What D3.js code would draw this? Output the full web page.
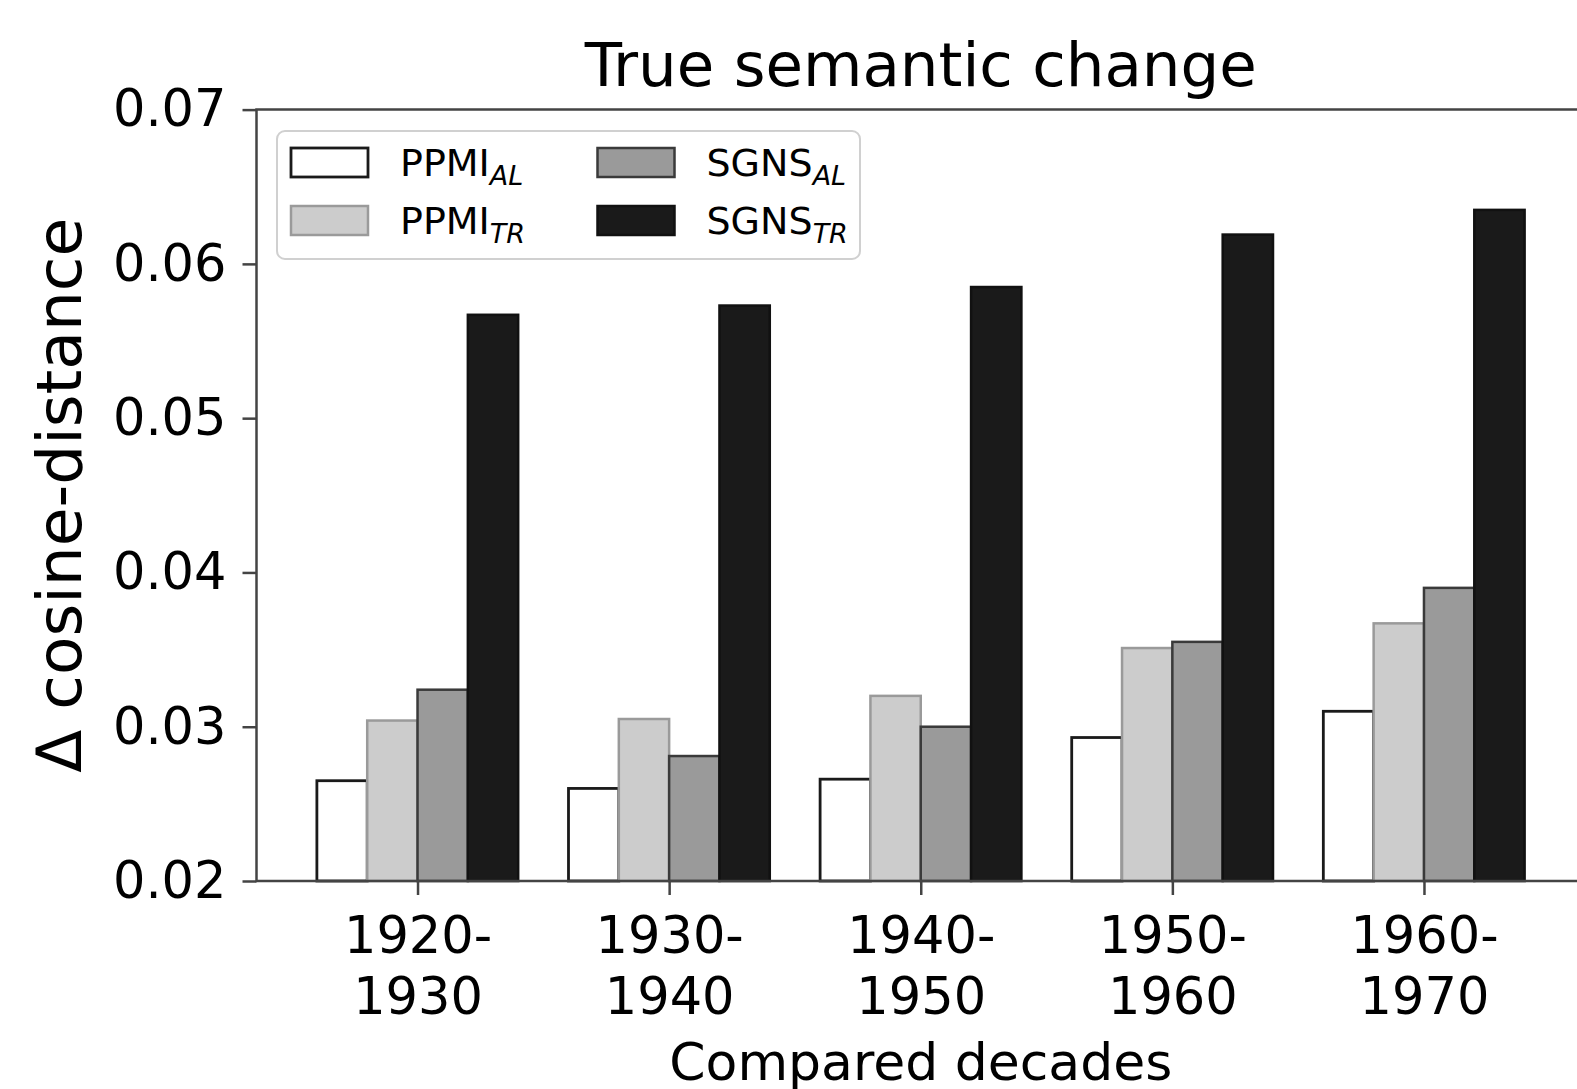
<!DOCTYPE html>
<meta charset="utf-8">
<style>
body { margin: 0; background: #fff; }
svg text { font-family: "DejaVu Sans", sans-serif; fill: #000; }
.axis path, .axis line { stroke: #444; stroke-width: 2.5; }
.axis text { font-size: 51px; }
</style>
<body>
<svg width="1577" height="1089"></svg>
<script src="https://cdn.jsdelivr.net/npm/d3@7"></script>
<script>
// data
var decades = [["1920-", "1930"], ["1930-", "1940"], ["1940-", "1950"], ["1950-", "1960"], ["1960-", "1970"]];
var ppmiAL = [0.0265, 0.0260, 0.0266, 0.0293, 0.0310];
var ppmiTR = [0.0304, 0.0305, 0.0320, 0.0351, 0.0367];
var sgnsAL = [0.0324, 0.0281, 0.0300, 0.0355, 0.0390];
var sgnsTR = [0.0567, 0.0573, 0.0585, 0.0619, 0.0635];
var yTicks = [0.02, 0.03, 0.04, 0.05, 0.06, 0.07];

var series = [
  {name: "PPMI", sub: "AL", values: ppmiAL, fill: "#ffffff", stroke: "#1a1a1a", sw: 2.8},
  {name: "PPMI", sub: "TR", values: ppmiTR, fill: "#cccccc", stroke: "#9a9a9a", sw: 2.5},
  {name: "SGNS", sub: "AL", values: sgnsAL, fill: "#9a9a9a", stroke: "#3a3a3a", sw: 2.5},
  {name: "SGNS", sub: "TR", values: sgnsTR, fill: "#1a1a1a", stroke: "#111111", sw: 2.5}
];

var svg = d3.select("svg");
var plotL = 256.5, plotR = 1585, plotT = 109.6, plotB = 881;
var barW = 0.2;

var x = d3.scaleLinear().domain([-0.64, 4.64]).range([plotL, plotR]);
var y = d3.scaleLinear().domain([0.02, 0.07]).range([plotB, plotT]);

// bars
series.forEach(function(s, i) {
  var off = (i - 1.5) * barW;
  svg.append("g").selectAll("rect")
    .data(s.values)
    .enter().append("rect")
    .attr("x", function(d, j) { return x(j + off - barW / 2); })
    .attr("width", x(barW) - x(0))
    .attr("y", function(d) { return y(d); })
    .attr("height", function(d) { return y(0.02) - y(d); })
    .attr("fill", s.fill)
    .attr("stroke", s.stroke)
    .attr("stroke-width", s.sw);
});

// axes
var yAxis = d3.axisLeft(y).tickValues(yTicks).tickSize(14).tickPadding(16)
  .tickFormat(d3.format(".2f"));
svg.append("g").attr("class", "axis").attr("transform", "translate(" + plotL + ",0)")
  .call(yAxis)
  .call(function(g) { g.select(".domain").remove(); });

var xAxis = d3.axisBottom(x).tickValues(d3.range(decades.length)).tickSize(14).tickFormat("");
var xg = svg.append("g").attr("class", "axis").attr("transform", "translate(0," + plotB + ")")
  .call(xAxis)
  .call(function(g) { g.select(".domain").remove(); });

xg.selectAll(".tick").each(function(d) {
  var t = d3.select(this).append("text")
    .attr("text-anchor", "middle")
    .attr("fill", "#000")
    .style("font-size", "51px");
  decades[d].forEach(function(line, k) {
    t.append("tspan").attr("x", 0).attr("y", 72 + k * 61).text(line);
  });
});

// spines
svg.append("path")
  .attr("d", "M" + plotR + "," + plotT + "H" + plotL + "V" + plotB + "H" + plotR)
  .attr("fill", "none").attr("stroke", "#444").attr("stroke-width", 2.5);

// title and labels
svg.append("text").attr("x", (plotL + plotR) / 2).attr("y", 86)
  .attr("text-anchor", "middle").style("font-size", "61px").text("True semantic change");

svg.append("text").attr("x", (plotL + plotR) / 2).attr("y", 1080)
  .attr("text-anchor", "middle").style("font-size", "52px").text("Compared decades");

svg.append("text")
  .attr("transform", "translate(81," + (plotT + plotB) / 2 + ") rotate(-90)")
  .attr("text-anchor", "middle").style("font-size", "63px").text("\u0394 cosine-distance");

// legend
var lg = svg.append("g");
lg.append("rect").attr("x", 277).attr("y", 131).attr("width", 583).attr("height", 128)
  .attr("rx", 8).attr("fill", "#fff").attr("fill-opacity", 0.8)
  .attr("stroke", "#d0d0d0").attr("stroke-width", 2);

series.forEach(function(s, i) {
  var col = i < 2 ? 0 : 1, row = i % 2;
  var hx = col === 0 ? 291 : 597.5, hy = row === 0 ? 148 : 206;
  lg.append("rect").attr("x", hx).attr("y", hy).attr("width", 77).attr("height", 29)
    .attr("fill", s.fill).attr("stroke", s.stroke).attr("stroke-width", s.sw);
  var t = lg.append("text").attr("x", hx + 109).attr("y", hy + 28).style("font-size", "38px");
  t.append("tspan").text(s.name);
  t.append("tspan").attr("dy", 9).style("font-size", "27px").style("font-style", "italic").text(s.sub);
});
</script>
</body>
